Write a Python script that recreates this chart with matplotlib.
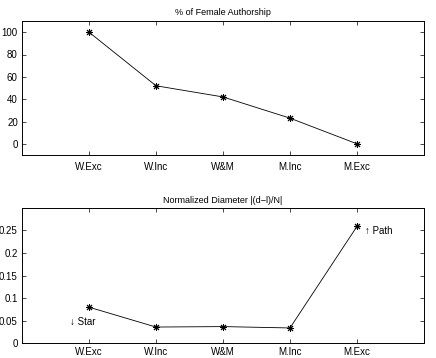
import matplotlib
matplotlib.use("Agg")
import matplotlib.pyplot as plt

groups = ["W.Exc", "W.Inc", "W&M", "M.Inc", "M.Exc"]
female_pct = [100, 52, 42, 23, 0]
norm_diameter = [0.080, 0.036, 0.037, 0.034, 0.259]

plt.rcParams["font.family"] = ["Liberation Sans", "DejaVu Sans"]
plt.rcParams["font.size"] = 7

fig = plt.figure(figsize=(4.36, 3.58), dpi=100)
ax1 = fig.add_axes([22 / 436, 1 - 155 / 358, 402 / 436, 134 / 358])
ax2 = fig.add_axes([22 / 436, 1 - 343.3 / 358, 402 / 436, 135 / 358])

x = list(range(1, len(groups) + 1))
star = (8, 2, 0)

ax1.plot(x, female_pct, color="black", lw=0.6, marker=star, ms=5, mew=0.7)
ax1.set_ylim(-10, 110)
ax1.set_yticks([0, 20, 40, 60, 80, 100])
ax1.set_title("% of Female Authorship", fontsize=6.5, pad=4)

ax2.plot(x, norm_diameter, color="black", lw=0.6, marker=star, ms=5, mew=0.7)
ax2.set_ylim(0, 0.299)
ax2.set_yticks([0, 0.05, 0.1, 0.15, 0.2, 0.25])
ax2.set_yticklabels(["0", "0.05", "0.1", "0.15", "0.2", "0.25"])
ax2.set_title("Normalized Diameter |(d\u2212l)/N|", fontsize=6.5, pad=4)
ax2.text(0.72, 0.048, "\u2193 Star", fontsize=7, va="center", ha="left")
ax2.text(5.12, 0.248, "\u2191 Path", fontsize=7, va="center", ha="left")

for ax in (ax1, ax2):
    ax.set_xlim(0, 6)
    ax.set_xticks(x)
    ax.set_xticklabels(groups)
    ax.tick_params(direction="in", top=True, right=True, length=3, width=0.5,
                   labelsize=7)
    ax.tick_params(axis="y", pad=3)
    for s in ax.spines.values():
        s.set_linewidth(0.7)

ax1.tick_params(axis="x", pad=5)
ax2.tick_params(axis="x", pad=2.5)

fig.savefig("out.png", dpi=100)
